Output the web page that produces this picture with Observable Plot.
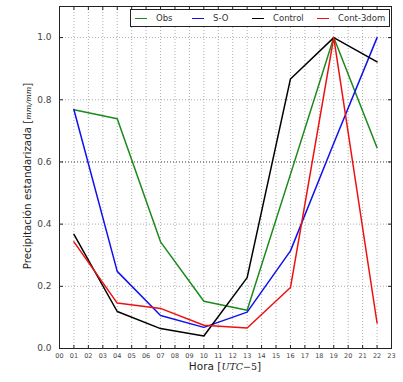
<!DOCTYPE html>
<html><head><meta charset="utf-8">
<script src="https://cdn.jsdelivr.net/npm/d3@7"></script>
<script src="https://cdn.jsdelivr.net/npm/@observablehq/plot@0.6"></script>
<style>
body{margin:0;background:#fff;font-family:"DejaVu Sans",sans-serif;}
#wrap{position:relative;width:403px;height:382px;}
#legend{position:absolute;left:130px;top:9px;width:260px;height:18px;border:1px solid #222;background:#fff;font-size:8.5px;color:#333;box-sizing:border-box;}
#legend .it{display:flex;align-items:center;position:absolute;top:3px;}
#legend .sw{width:12px;height:0;border-top:1.6px solid;margin-right:9px;}
</style></head><body>
<div id="wrap"><div id="chart"></div>
<div id="legend"></div></div>
<script>
const hours = [1, 4, 7, 10, 13, 16, 19, 22];
const obs = [0.768, 0.739, 0.343, 0.152, 0.123, 0.56, 1.0, 0.646];
const so = [0.768, 0.248, 0.106, 0.068, 0.117, 0.314, 0.66, 1.0];
const control = [0.367, 0.119, 0.064, 0.04, 0.228, 0.867, 1.0, 0.922];
const cont3dom = [0.343, 0.146, 0.129, 0.075, 0.066, 0.196, 1.0, 0.082];
const seriesNames = ["Obs", "S-O", "Control", "Cont-3dom"];
const seriesColors = ["#1a8a1a", "#1010ee", "#000000", "#ee1010"];
const xTicks = d3.range(0, 24);
const yTicks = [0.0, 0.2, 0.4, 0.6, 0.8, 1.0];

const allSeries = [obs, so, control, cont3dom];
const rows = [];
allSeries.forEach((vals, si) => vals.forEach((v, i) => rows.push({series: seriesNames[si], hour: hours[i], value: v})));

const chart = Plot.plot({
  width: 403, height: 382,
  marginLeft: 59, marginRight: 12, marginTop: 6, marginBottom: 34,
  style: {fontFamily: "DejaVu Sans, sans-serif", background: "#fff"},
  x: {domain: [0, 23], ticks: xTicks, tickFormat: d => String(d).padStart(2, "0"), label: null},
  y: {domain: [0, 1.1], ticks: yTicks, tickFormat: d3.format(".1f"), label: null},
  color: {domain: seriesNames, range: seriesColors},
  marks: [
    Plot.ruleX(xTicks.slice(1, -1), {stroke: "#999", strokeDasharray: "1,2", strokeWidth: 0.8}),
    Plot.ruleY(yTicks.slice(1).filter(d => d !== 0.6), {stroke: "#999", strokeDasharray: "1,2", strokeWidth: 0.8}),
    Plot.ruleY([0.6], {stroke: "#222", strokeDasharray: "1,2", strokeWidth: 0.9}),
    Plot.axisX({ticks: xTicks, tickFormat: d => String(d).padStart(2, "0"), tickSize: 0, tickPadding: 5, fontSize: 6.5, fill: "#444", label: null}),
    Plot.axisX({ticks: xTicks, anchor: "bottom", tickSize: -3, text: null, stroke: "#222", label: null}),
    Plot.axisX({ticks: xTicks, anchor: "top", tickSize: -3, text: null, stroke: "#222", label: null}),
    Plot.axisY({ticks: yTicks, tickFormat: d3.format(".1f"), tickSize: 0, tickPadding: 8, fontSize: 9, fill: "#444", label: null}),
    Plot.axisY({ticks: yTicks, anchor: "left", tickSize: -4, text: null, stroke: "#222", label: null}),
    Plot.axisY({ticks: yTicks, anchor: "right", tickSize: -4, text: null, stroke: "#222", label: null}),
    Plot.line(rows, {x: "hour", y: "value", z: "series", stroke: "series", strokeWidth: 1.5}),
    Plot.frame({stroke: "#222", strokeWidth: 1})
  ]
});
const svg = d3.select(chart);
svg.append("text").attr("x", 225).attr("y", 370).attr("text-anchor", "middle")
  .attr("font-size", 10.5).attr("fill", "#222")
  .html('Hora [<tspan font-family="DejaVu Serif" font-style="italic" font-size="9.5">UTC</tspan><tspan font-family="DejaVu Serif" font-size="9.5">−5</tspan>]');
svg.append("text").attr("transform", "translate(31,176) rotate(-90)").attr("text-anchor", "middle")
  .attr("font-size", 10.3).attr("fill", "#222")
  .html('Precipitación estandarizada [<tspan font-family="DejaVu Serif" font-style="italic" font-size="8">mm/mm</tspan>]');
document.getElementById("chart").appendChild(chart);

const leg = document.getElementById("legend");
const legPos = [4, 61, 121, 186];
seriesNames.forEach((n, i) => {
  const it = document.createElement("div");
  it.className = "it"; it.style.left = legPos[i] + "px";
  it.innerHTML = `<span class="sw" style="border-color:${seriesColors[i]}"></span><span>${n}</span>`;
  leg.appendChild(it);
});
</script></body></html>
